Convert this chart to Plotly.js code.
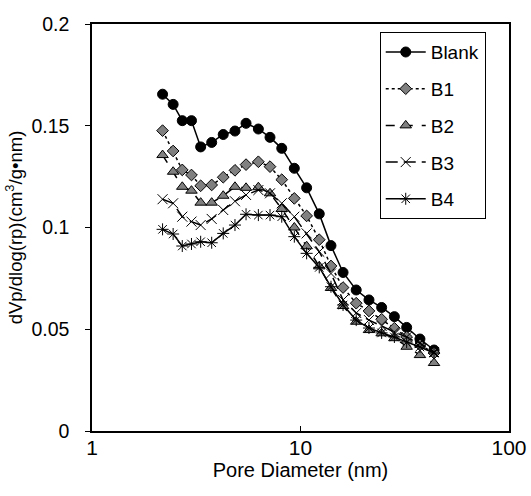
<!DOCTYPE html>
<html>
<head>
<meta charset="utf-8">
<script src="https://cdn.plot.ly/plotly-3.0.1.min.js"></script>
<style>html,body{margin:0;padding:0;background:#fff;}#chart{width:531px;height:496px;}</style>
</head>
<body>
<div id="chart"></div>
<script>
const poreDiameter = [2.18, 2.45, 2.71, 3.0, 3.32, 3.75, 4.26, 4.85, 5.48, 6.28, 7.14, 8.13, 9.34, 10.7, 12.3, 14.0, 16.0, 18.5, 21.3, 24.5, 28.2, 32.3, 37.4, 43.7];
const blank = [0.1655, 0.1605, 0.1525, 0.1525, 0.1396, 0.1418, 0.1457, 0.1474, 0.1512, 0.1484, 0.1443, 0.1389, 0.1291, 0.1195, 0.1067, 0.0911, 0.0779, 0.0693, 0.0644, 0.0607, 0.0562, 0.0509, 0.0452, 0.0398];
const b1 = [0.1476, 0.1376, 0.1283, 0.1258, 0.1205, 0.1209, 0.1247, 0.1281, 0.1309, 0.1323, 0.1299, 0.1235, 0.1143, 0.1057, 0.0940, 0.0811, 0.0705, 0.0628, 0.0590, 0.0549, 0.0505, 0.0462, 0.0423, 0.0383];
const b2 = [0.1356, 0.1274, 0.1200, 0.1181, 0.1122, 0.1122, 0.1156, 0.1200, 0.1195, 0.1198, 0.1168, 0.1091, 0.1000, 0.0908, 0.0809, 0.0703, 0.0614, 0.0537, 0.0496, 0.0480, 0.0456, 0.0414, 0.0373, 0.0334];
const b3 = [0.1139, 0.1119, 0.1053, 0.1029, 0.1012, 0.1042, 0.1086, 0.1129, 0.1160, 0.1184, 0.1168, 0.1119, 0.1053, 0.0971, 0.0881, 0.0774, 0.0644, 0.0580, 0.0545, 0.0516, 0.0486, 0.0462, 0.0432, 0.0388];
const b4 = [0.0991, 0.0968, 0.0909, 0.0919, 0.0930, 0.0925, 0.0971, 0.1012, 0.1065, 0.1061, 0.1061, 0.1053, 0.0955, 0.0873, 0.0804, 0.0709, 0.0619, 0.0545, 0.0506, 0.0482, 0.0462, 0.0437, 0.0413, 0.0383];
const seriesNames = ["Blank", "B1", "B2", "B3", "B4"];
const xTickVals = [1, 10, 100];
const xTickText = ["1", "10", "100"];
const yTickVals = [0, 0.05, 0.1, 0.15, 0.2];
const yTickText = ["0", "0.05", "0.1", "0.15", "0.2"];

const FONT = "Liberation Sans, Arial, sans-serif";
const styles = [
  {dash: "solid", symbol: "circle", size: 10, color: "#000", lc: "#000"},
  {dash: "dot", symbol: "diamond", size: 9, color: "#808080", lc: "#000"},
  {dash: "dash", symbol: "triangle-up", size: 10, color: "#808080", lc: "#000"},
  {dash: "12px,6px", symbol: "x-thin-open", size: 10, color: "#000", lc: "#000"},
  {dash: "solid", symbol: "asterisk-open", size: 10, color: "#000", lc: "#000"}
];
const ys = [blank, b1, b2, b3, b4];
const traces = ys.map((y, i) => ({
  x: poreDiameter, y: y, name: seriesNames[i], type: "scatter", mode: "lines+markers",
  legendgroup: "g" + i,
  line: {color: "#000", width: 1.5, dash: styles[i].dash},
  marker: {symbol: styles[i].symbol, size: styles[i].size, color: styles[i].color,
           line: {color: styles[i].lc, width: 1}}
}));

const layout = {
  width: 531, height: 496,
  margin: {l: 92, r: 22, t: 24, b: 65},
  paper_bgcolor: "#fff", plot_bgcolor: "#fff",
  font: {family: FONT, size: 16, color: "#000"},
  showlegend: true,
  legend: {x: 0.69, y: 0.98, xanchor: "left", yanchor: "top",
           bordercolor: "#000", borderwidth: 1, bgcolor: "#fff",
           tracegroupgap: 9, itemwidth: 40,
           font: {family: FONT, size: 19, color: "#000"}},
  xaxis: {type: "log", range: [0, 2], tickvals: xTickVals, ticktext: xTickText,
          ticks: "inside", ticklen: 5, tickwidth: 1, tickcolor: "#000", ticklabelstandoff: -3,
          showgrid: false, zeroline: false, showline: true, linecolor: "#000", linewidth: 1.5, mirror: true,
          tickfont: {family: FONT, size: 21, color: "#000"},
          title: {text: "Pore Diameter (nm)", font: {family: FONT, size: 20, color: "#000"}, standoff: 0}},
  yaxis: {range: [0, 0.2], tickvals: yTickVals, ticktext: yTickText,
          ticks: "outside", ticklen: 5, tickwidth: 1, tickcolor: "#000", ticklabelstandoff: 12,
          showgrid: false, zeroline: false, showline: true, linecolor: "#000", linewidth: 1.5, mirror: true,
          tickfont: {family: FONT, size: 19.5, color: "#000"},
          title: {text: "dVp/dlog(rp)(cm<sup>3</sup>/g\u2022nm)", font: {family: FONT, size: 18.5, color: "#000"}, standoff: 4}}
};
Plotly.newPlot("chart", traces, layout, {displayModeBar: false});
</script>
</body>
</html>
